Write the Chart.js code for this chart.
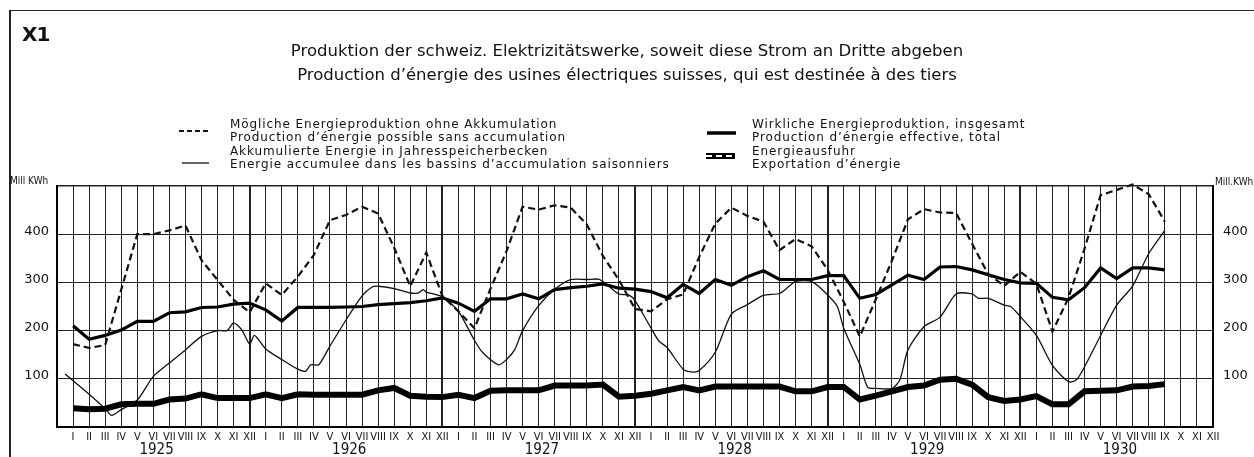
<!DOCTYPE html>
<html><head><meta charset="utf-8">
<script src="https://cdn.jsdelivr.net/npm/chart.js@4.4.1/dist/chart.umd.min.js"></script>
<style>
html,body{margin:0;padding:0;background:#fff;}
#wrap{position:relative;width:1254px;height:457px;overflow:hidden;background:#fff;font-family:'DejaVu Sans',sans-serif;color:#111;}
#c{position:absolute;left:0;top:0;}
.frame{position:absolute;left:9px;top:10px;width:1250px;height:460px;border-left:2px solid #222;border-top:1.5px solid #222;pointer-events:none;}
.x1{position:absolute;left:22px;top:22px;font-size:20px;font-weight:bold;letter-spacing:-1px;}
.lg{position:absolute;font-size:12px;letter-spacing:0.9px;line-height:12.5px;white-space:nowrap;}
.unit{position:absolute;font-family:'DejaVu Sans Condensed',sans-serif;font-size:10px;white-space:nowrap;}
svg{position:absolute;overflow:visible;}
</style></head>
<body>
<div id="wrap">
<canvas id="c" width="1254" height="457"></canvas>
<div class="frame"></div>
<div class="x1">X1</div>
<svg style="left:179px;top:128px" width="32" height="6"><line x1="0" y1="3" x2="31" y2="3" stroke="#111" stroke-width="2" stroke-dasharray="5,3"/></svg>
<div class="lg" style="left:230px;top:118px">Mögliche Energieproduktion ohne Akkumulation<br>Production d’énergie possible sans accumulation</div>
<svg style="left:182px;top:160px" width="28" height="6"><line x1="0" y1="3" x2="27" y2="3" stroke="#111" stroke-width="1.3"/></svg>
<div class="lg" style="left:230px;top:145px">Akkumulierte Energie in Jahresspeicherbecken<br>Energie accumulee dans les bassins d’accumulation saisonniers</div>
<svg style="left:707px;top:129px" width="30" height="8"><line x1="0" y1="4" x2="29" y2="4" stroke="#000" stroke-width="3.5"/></svg>
<div class="lg" style="left:752px;top:118px">Wirkliche Energieproduktion, insgesamt<br>Production d’énergie effective, total</div>
<svg style="left:706px;top:152px" width="30" height="8"><line x1="0" y1="4" x2="29" y2="4" stroke="#000" stroke-width="6"/><line x1="0" y1="4" x2="29" y2="4" stroke="#fff" stroke-width="2" stroke-dasharray="6,4"/></svg>
<div class="lg" style="left:752px;top:145px">Energieausfuhr<br>Exportation d’énergie</div>
<div class="unit" style="left:10px;top:175px">Mill KWh</div>
<div class="unit" style="left:1215px;top:176px">Mill.KWh</div>
</div>
<script>
const ROMAN = ['I','II','III','IV','V','VI','VII','VIII','IX','X','XI','XII'];
const YEARS = ['1925','1926','1927','1928','1929','1930'];
const Y_TICKS = [100, 200, 300, 400];
const TITLE = ['Produktion der schweiz. Elektrizitätswerke, soweit diese Strom an Dritte abgeben',
               'Production d’énergie des usines électriques suisses, qui est destinée à des tiers'];

// Monthly values, Jan 1925 .. Sep 1930 (Mill. kWh)
const possible = [
  172, 164, 170, 285, 400, 400, 408, 418, 346, 305, 264, 238,
  298, 274, 312, 357, 429, 440, 457, 443, 372, 292, 362, 272,
  240, 205, 287, 365, 457, 451, 460, 455, 420, 355, 305, 245,
  240, 265, 275, 353, 422, 455, 438, 426, 367, 390, 375, 326,
  260, 188, 265, 345, 431, 452, 445, 444, 380, 317, 293, 322,
  297, 198, 268, 370, 481, 492, 503, 483, 426
];
const actual = [
  210, 182, 190, 201, 219, 219, 237, 239, 248, 249, 255, 257,
  243, 220, 248, 248, 248, 249, 250, 254, 256, 258, 262, 268,
  257, 240, 266, 266, 276, 266, 285, 289, 292, 297, 288, 286,
  281, 268, 296, 277, 306, 294, 312, 324, 306, 306, 306, 314,
  314, 267, 275, 295, 315, 306, 332, 333, 326, 316, 306, 299,
  298, 269, 264, 289, 330, 308, 330, 330, 326
];
const exported = [
  39, 37, 38, 47, 48, 48, 57, 59, 68, 60, 60, 60,
  68, 60, 68, 67, 67, 67, 67, 76, 81, 65, 63, 62,
  67, 60, 75, 76, 76, 76, 86, 86, 86, 88, 63, 65,
  69, 76, 83, 76, 84, 84, 84, 84, 84, 74, 74, 83,
  83, 57, 65, 74, 83, 86, 98, 100, 88, 62, 54, 57,
  64, 47, 47, 74, 75, 76, 84, 85, 89
];
// Accumulated energy in storage (month index, 0 = Jan 1925)
const storedMonth = [
  -0.5, 0, 1, 2, 2.4, 3, 4, 5, 6, 7, 8, 9, 9.6, 10, 10.5, 11, 11.3, 12, 13, 14, 14.5, 14.8, 15.3, 16, 17,
  18, 18.6, 19, 20, 21, 21.5, 21.8, 22, 23, 24, 25, 25.5, 26.5, 27, 27.5, 28, 29, 30, 31, 32, 32.8, 34, 34.6, 35,
  36, 36.5, 37, 38, 38.6, 39, 40, 41, 42, 43, 44, 44.6, 45, 46, 47, 47.6, 48, 49, 49.5, 50, 51, 51.5, 52, 53,
  54, 55, 56, 56.4, 57, 58, 58.4, 59, 60, 61, 62, 62.5, 63, 64, 65, 66, 67, 68
];
const stored = [
  110, 96, 68, 38, 24, 36, 56, 105, 133, 160, 188, 200, 200, 216, 202, 172, 190, 162, 140, 120, 116, 129, 129, 168, 222,
  272, 290, 292, 287, 278, 278, 285, 280, 270, 240, 180, 155, 129, 140, 160, 200, 252, 286, 306, 306, 306, 276, 274, 262,
  205, 178, 165, 120, 114, 117, 155, 234, 254, 273, 277, 292, 302, 302, 274, 250, 205, 130, 82, 80, 80, 98, 160, 208,
  228, 276, 276, 267, 267, 253, 250, 229, 190, 128, 94, 98, 125, 190, 253, 293, 360, 408
];

const monthly = arr => arr.map((v, i) => ({x: i, y: v}));
const yTickList = s => { s.ticks = [0, 100, 200, 300, 400, 500].map(v => ({value: v})); };
const yLabel = v => Y_TICKS.includes(v) ? String(v) : '';

new Chart(document.getElementById('c'), {
  type: 'line',
  data: {datasets: [
    {label: 'Akkumulierte Energie', data: storedMonth.map((m, i) => ({x: m, y: stored[i]})),
     borderColor: '#111', borderWidth: 1.3, tension: 0.25, pointRadius: 0, fill: false},
    {label: 'Mögliche Energieproduktion', data: monthly(possible),
     borderColor: '#111', borderWidth: 2.2, borderDash: [7, 4], pointRadius: 0, fill: false, clip: 8},
    {label: 'Wirkliche Energieproduktion', data: monthly(actual),
     borderColor: '#000', borderWidth: 3.2, pointRadius: 0, fill: false},
    {label: 'Energieausfuhr', data: monthly(exported),
     borderColor: '#000', borderWidth: 6, pointRadius: 0, fill: false},
    {label: 'Energieausfuhr (inner)', data: monthly(exported),
     borderColor: '#fff', borderWidth: 2, borderDash: [6, 4], pointRadius: 0, fill: false}
  ]},
  options: {
    responsive: false, animation: false, devicePixelRatio: 1,
    layout: {padding: 0},
    plugins: {
      legend: {display: false}, tooltip: {enabled: false},
      title: {display: true, text: TITLE, color: '#111',
        font: {family: 'DejaVu Sans', size: 16.5, weight: 'normal', lineHeight: 1.455},
        padding: {top: 40, bottom: 98}}
    },
    scales: {
      x: {type: 'linear', position: 'bottom', min: -1, max: 71,
        afterBuildTicks: s => { s.ticks = []; for (let v = -1; v <= 71; v++) s.ticks.push({value: v}); },
        afterFit: s => { s.height = 14; },
        ticks: {autoSkip: false, maxRotation: 0, padding: 4, color: '#111',
          font: {family: 'DejaVu Sans Condensed', size: 11},
          callback: v => v >= 0 ? ROMAN[v % 12] : ''},
        grid: {color: '#222', drawTicks: false,
          lineWidth: c => (c.tick && c.tick.value % 12 === 11) ? 2 : 1},
        border: {display: true, color: '#000', width: 2}},
      x2: {type: 'linear', position: 'bottom', min: -1, max: 71,
        afterBuildTicks: s => { s.ticks = YEARS.map((y, k) => ({value: 5.2 + 12 * k})); },
        afterFit: s => { s.height = 16; },
        ticks: {autoSkip: false, maxRotation: 0, padding: 0, color: '#111',
          font: {family: 'DejaVu Sans Condensed', size: 15},
          callback: (v, i) => YEARS[i]},
        grid: {display: false, drawTicks: false}, border: {display: false}},
      y: {type: 'linear', position: 'left', min: 0, max: 500,
        afterBuildTicks: yTickList, afterFit: s => { s.width = 57; },
        ticks: {padding: 8, labelOffset: -3, color: '#111', font: {family: 'DejaVu Sans', size: 13}, callback: yLabel},
        grid: {color: '#222', drawTicks: false, lineWidth: c => (c.tick && c.tick.value === 500) ? 1.5 : 1},
        border: {display: true, color: '#000', width: 2}},
      y2: {type: 'linear', position: 'right', min: 0, max: 500,
        afterBuildTicks: yTickList, afterFit: s => { s.width = 41; },
        ticks: {padding: 10, labelOffset: -3, color: '#111', font: {family: 'DejaVu Sans', size: 13}, callback: yLabel},
        grid: {display: false, drawTicks: false},
        border: {display: true, color: '#000', width: 2}}
    }
  }
});
</script>
</body></html>
